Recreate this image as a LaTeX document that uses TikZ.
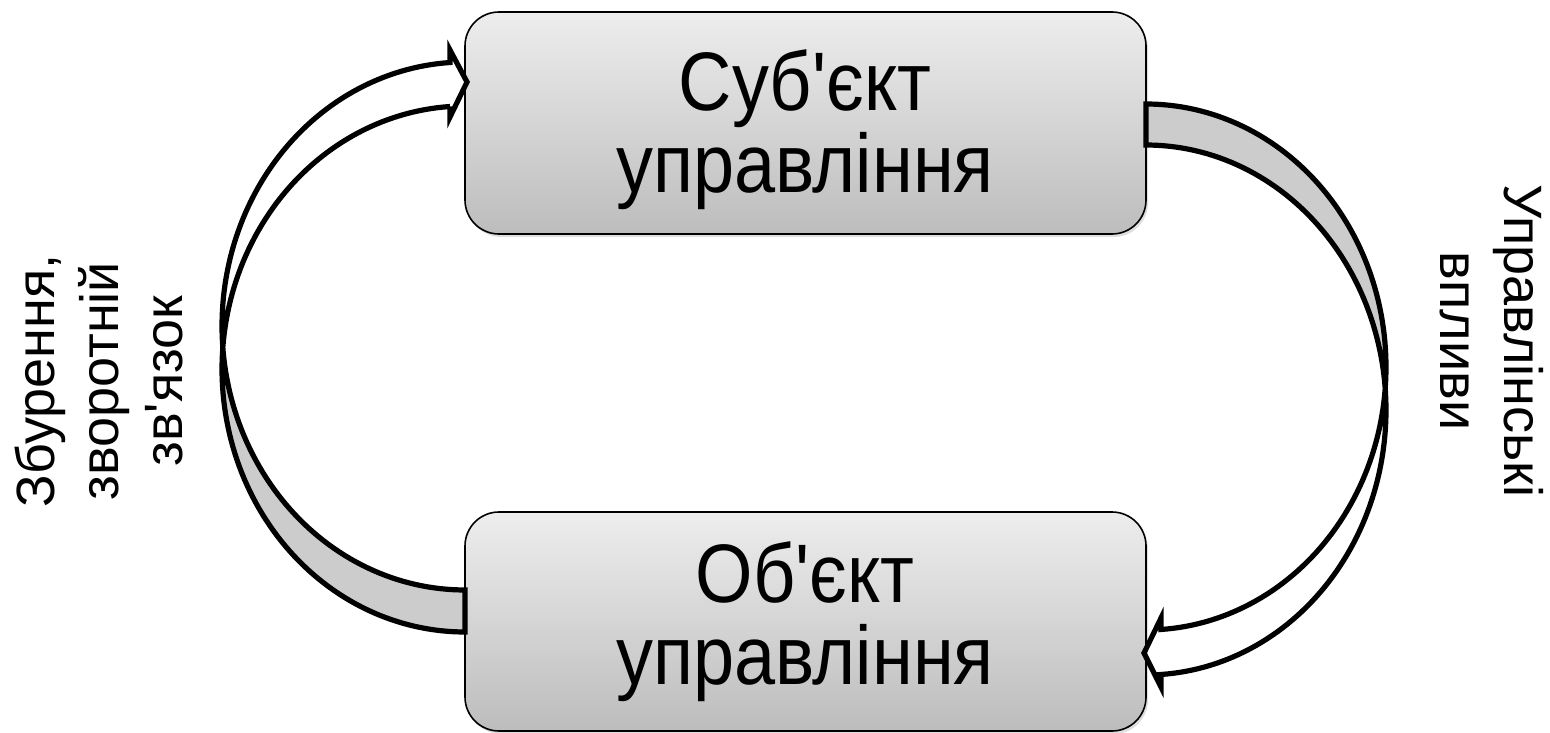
\documentclass[tikz,border=0pt]{standalone}
\usepackage{fontspec}
\setmainfont{Liberation Sans}[Ligatures=TeXOff]
\newfontfamily\boxfont{Liberation Sans}[Ligatures=TeXOff, FakeStretch=0.89]
\usetikzlibrary{shadows}
\begin{document}
\begin{tikzpicture}[x=1pt,y=-1pt,
  box/.style={draw=black, line width=1.6pt, rounded corners=34pt, minimum width=681pt,
    top color=black!7, bottom color=black!26, inner sep=0pt,
    drop shadow={shadow xshift=2pt, shadow yshift=-3pt, opacity=0.25}},
  boxtext/.style={font=\boxfont\fontsize{83}{82}\selectfont, align=center, inner sep=0pt},
  sidetext/.style={font=\fontsize{54}{64}\selectfont, inner sep=0pt},
  band/.style={line width=5.2pt, line join=miter, draw=black},
  bandfill/.style={fill=black!20}
]
\useasboundingbox (0,0) rectangle (1550,733);

% boxes
\node[box, minimum height=222pt] (subj) at (805.5,123) {};
\node[box, minimum height=219pt] (obj) at (805.5,621.5) {};
\node[boxtext] (subjtext) at (805,130) {Суб'єкт\\управління};
\node[boxtext] (objtext) at (805,622) {Об'єкт\\управління};

% left band (from object up to subject)
\fill[bandfill]
  plot[domain=90:175.33, samples=50] ({465+243*cos(\x)},{326+264*sin(\x)})
  -- plot[domain=184.69:90, samples=50] ({465+243*cos(\x)},{369+263*sin(\x)})
  -- cycle;
\draw[band] (450,50) -- (467,82) -- (450,117) -- (450,106.5)
  -- plot[domain=266.46:90, samples=120] ({465+243*cos(\x)},{369+263*sin(\x)})
  -- plot[domain=90:266.46, samples=120] ({465+243*cos(\x)},{326+264*sin(\x)})
  -- cycle;

% right band (from subject down to object)
\fill[bandfill]
  plot[domain=-90:4.69, samples=50] ({1146+240*cos(\x)},{367+263*sin(\x)})
  -- plot[domain=-4.65:-90, samples=50] ({1146+240*cos(\x)},{410+265*sin(\x)})
  -- cycle;
\draw[band] (1161,618) -- (1144,653) -- (1161,687) -- (1161,674.5)
  -- plot[domain=86.42:-90, samples=120] ({1146+240*cos(\x)},{410+265*sin(\x)})
  -- plot[domain=-90:86.42, samples=120] ({1146+240*cos(\x)},{367+263*sin(\x)})
  -- cycle;

% side labels
\node[sidetext, rotate=90, align=center] (lefttext) at (99,381) {Збурення,\\зворотній\\зв'язок};
\node[sidetext, rotate=-90, align=center] (righttext) at (1492,341) {Управлінські\\впливи};
\end{tikzpicture}
\end{document}
